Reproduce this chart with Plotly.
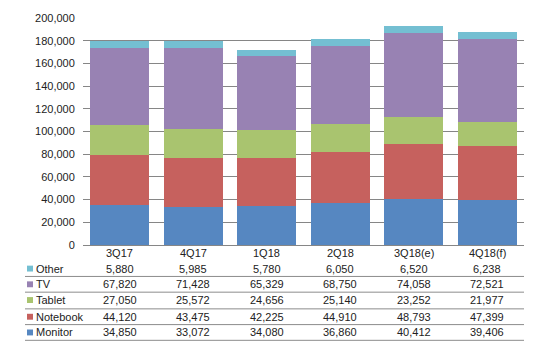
import plotly.graph_objects as go

categories = ["3Q17", "4Q17", "1Q18", "2Q18", "3Q18(e)", "4Q18(f)"]
monitor = [34850, 33072, 34080, 36860, 40412, 39406]
notebook = [44120, 43475, 42225, 44910, 48793, 47399]
tablet = [27050, 25572, 24656, 25140, 23252, 21977]
tv = [67820, 71428, 65329, 68750, 74058, 72521]
other = [5880, 5985, 5780, 6050, 6520, 6238]

series_names = ["Monitor", "Notebook", "Tablet", "TV", "Other"]
series_values = [monitor, notebook, tablet, tv, other]
colors = ["#5687C1", "#C6615E", "#A9C46F", "#9882B3", "#74BFD2"]

FONT = "Liberation Sans, Arial, sans-serif"
fig = go.Figure()
for name, vals, c in zip(series_names, series_values, colors):
    fig.add_trace(go.Bar(x=categories, y=vals, name=name, marker_color=c,
                         marker_line_width=0, showlegend=False))

W, H = 539, 350
L, R, T, B = 83, 15, 14, 105
pw, ph = W - L - R, H - T - B

def py(ypx):
    return (H - B - ypx) / ph

def px(xpx):
    return (xpx - L) / pw

ann = []
shapes = []
# header
for c in categories:
    ann.append(dict(x=c, y=py(253), xref="x", yref="paper", text=c, showarrow=False,
                    font=dict(size=11, color="#222", family=FONT), xanchor="center", yanchor="middle"))
row_y = [269, 285, 301, 318, 334]
line_y = [277, 293, 310, 326, 342]
for i, (name, vals, c) in enumerate(zip(series_names[::-1], series_values[::-1], colors[::-1])):
    y = py(row_y[i])
    ann.append(dict(x=px(34), y=y, xref="paper", yref="paper", text=name, showarrow=False,
                    font=dict(size=11, color="#222", family=FONT), xanchor="left", yanchor="middle"))
    shapes.append(dict(type="rect", xref="paper", yref="paper", x0=px(27), x1=px(33),
                       y0=py(row_y[i] + 3), y1=py(row_y[i] - 3), fillcolor=c, line_width=0))
    for cat, v in zip(categories, vals):
        ann.append(dict(x=cat, y=y, xref="x", yref="paper", text=f"{v:,}", showarrow=False,
                        font=dict(size=11, color="#222", family=FONT), xanchor="center", yanchor="middle"))
    shapes.append(dict(type="line", xref="paper", yref="paper", x0=px(25), x1=1.0,
                       y0=py(line_y[i]), y1=py(line_y[i]), line=dict(color="#8C8C8C", width=1)))

fig.update_layout(
    barmode="stack", bargap=0.2,
    width=W, height=H, margin=dict(l=L, r=R, t=T, b=B),
    paper_bgcolor="white", plot_bgcolor="white",
    font=dict(family=FONT, size=11, color="#222"),
    xaxis=dict(showticklabels=False, showline=True, linecolor="#868686", linewidth=1,
               ticks="", showgrid=False),
    yaxis=dict(range=[0, 200000], dtick=20000, tickformat=",", showgrid=True,
               gridcolor="#868686", gridwidth=1, showline=False, zeroline=False,
               ticks="outside", ticklen=5, tickcolor="white", tickfont=dict(size=11, color="#222")),
    annotations=ann, shapes=shapes,
)
fig.write_html("out.html")
